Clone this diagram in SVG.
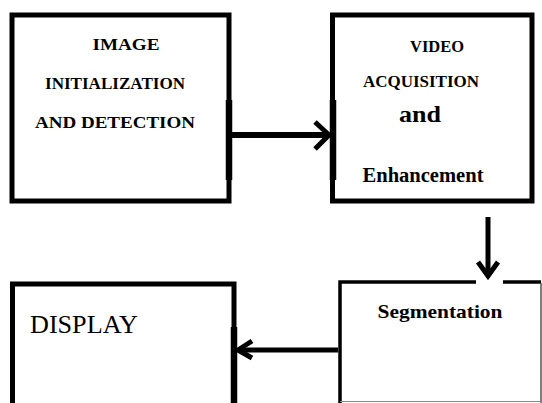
<svg xmlns="http://www.w3.org/2000/svg" width="542" height="403" viewBox="0 0 542 403">
<style>
.box{fill:#fff;stroke:#000;stroke-width:5;stroke-linejoin:miter}
.thick{stroke:#000;stroke-width:6.5}
text{font-family:"Liberation Serif","DejaVu Serif","Noto Serif",serif;fill:#000}
.t{font-weight:bold;text-anchor:middle}
.conn line,.conn polyline{stroke:#000;fill:none;stroke-linecap:butt;stroke-linejoin:miter}
</style>
<rect width="542" height="403" fill="#fff"/>
<g id="node-image">
<rect class="box" x="12" y="15" width="217" height="186" stroke-width="6"/>
<line class="thick" x1="229" y1="100" x2="229" y2="180"/>
<text class="t" x="126" y="50" font-size="17" textLength="67" lengthAdjust="spacingAndGlyphs">IMAGE</text>
<text class="t" x="115" y="89" font-size="16" textLength="140" lengthAdjust="spacingAndGlyphs">INITIALIZATION</text>
<text class="t" x="115" y="128" font-size="17" textLength="160" lengthAdjust="spacingAndGlyphs">AND DETECTION</text>
</g>
<g id="node-video">
<rect class="box" x="332.5" y="15" width="199.5" height="186"/>
<line class="thick" x1="333" y1="100" x2="333" y2="180"/>
<text class="t" x="437" y="52" font-size="16" textLength="54" lengthAdjust="spacingAndGlyphs">VIDEO</text>
<text class="t" x="421" y="87" font-size="16" textLength="116" lengthAdjust="spacingAndGlyphs">ACQUISITION</text>
<text class="t" x="420" y="122" font-size="23" textLength="42" lengthAdjust="spacingAndGlyphs">and</text>
<text class="t" x="423" y="182" font-size="20" textLength="121" lengthAdjust="spacingAndGlyphs">Enhancement</text>
</g>
<g id="node-segmentation">
<path d="M340,403 V282 H476 M503,282 H541" fill="none" stroke="#000" stroke-width="3.5"/>
<line x1="541" y1="283" x2="541" y2="403" stroke="#555" stroke-width="1.5"/>
<line x1="340" y1="401.5" x2="541" y2="401.5" stroke="#888" stroke-width="1"/>
<text class="t" x="440" y="318" font-size="19" textLength="125" lengthAdjust="spacingAndGlyphs">Segmentation</text>
</g>
<g id="node-display">
<rect class="box" x="12.5" y="284" width="221.5" height="140"/>
<line class="thick" x1="234" y1="327" x2="234" y2="403"/>
<text x="30" y="333" font-size="25" textLength="108" lengthAdjust="spacingAndGlyphs">DISPLAY</text>
</g>
<g id="connectors" class="conn">
<line x1="232" y1="135" x2="329" y2="135" stroke-width="6"/>
<polyline points="315,122 329,135 315,149" stroke-width="5"/>
<line x1="488" y1="217" x2="488" y2="276" stroke-width="5"/>
<polyline points="478,262 488,276 498,262" stroke-width="5"/>
<line x1="338" y1="350" x2="238" y2="350" stroke-width="5"/>
<polyline points="252,341 238,350 252,358" stroke-width="5"/>
</g>
</svg>
